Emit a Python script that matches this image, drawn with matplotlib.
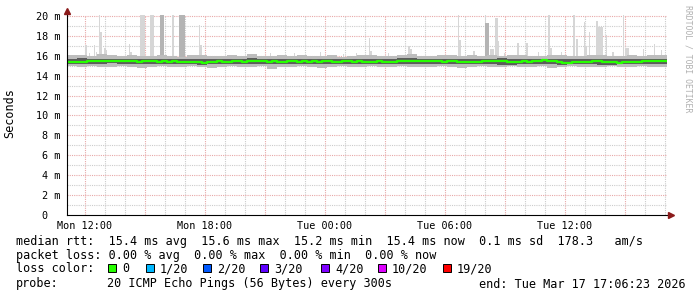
import numpy as np
import matplotlib
matplotlib.use("agg")
import matplotlib.pyplot as plt

# time axis in hours since Mon 00:00, graph spans Mon 11:06 .. Tue 17:06
t_start = 11.1
t_end = 41.1

# median rtt (ms), one value per 15 min
median_rtt = [
    15.38, 15.36, 15.40, 15.42, 15.45, 15.50, 15.52, 15.50, 15.47, 15.48, 15.44, 15.46,
    15.47, 15.45, 15.40, 15.43, 15.48, 15.45, 15.42, 15.44, 15.40, 15.43, 15.38, 15.42,
    15.40, 15.37, 15.33, 15.30, 15.36, 15.42, 15.45, 15.40, 15.38, 15.43, 15.45, 15.42,
    15.45, 15.48, 15.50, 15.44, 15.40, 15.46, 15.42, 15.38, 15.44, 15.47, 15.40, 15.43,
    15.42, 15.46, 15.40, 15.44, 15.48, 15.42, 15.38, 15.43, 15.47, 15.41, 15.44, 15.40,
    15.38, 15.42, 15.45, 15.40, 15.36, 15.42, 15.46, 15.48, 15.44, 15.47, 15.50, 15.46,
    15.44, 15.48, 15.45, 15.42, 15.46, 15.43, 15.40, 15.35, 15.36, 15.38, 15.42, 15.50,
    15.52, 15.48, 15.44, 15.46, 15.40, 15.36, 15.40, 15.44, 15.42, 15.46, 15.50, 15.55,
    15.52, 15.48, 15.40, 15.30, 15.28, 15.34, 15.40, 15.42, 15.38, 15.44, 15.46, 15.42,
    15.38, 15.35, 15.30, 15.34, 15.36, 15.40, 15.38, 15.45, 15.50, 15.48, 15.52, 15.50,
    15.48,
]

# smoke (spread of the 20 pings), one value per 30 min
smoke_max = [
    16.05, 16.10, 16.00, 16.15, 16.05, 15.95, 16.10, 16.00, 15.95, 16.05,
    16.00, 15.90, 16.05, 16.10, 15.95, 16.00, 16.05, 15.95, 16.15, 16.00,
    15.95, 16.05, 16.00, 16.10, 15.95, 16.00, 16.05, 15.90, 16.00, 16.10,
    16.05, 15.95, 16.00, 16.05, 16.15, 16.00, 15.95, 16.10, 16.05, 16.00,
    16.10, 15.95, 16.05, 16.00, 16.10, 16.05, 15.95, 16.00, 16.10, 16.05,
    16.00, 15.95, 16.05, 16.10, 16.00, 15.95, 16.05, 16.00, 16.10, 16.05, 16.00,
]
smoke_q3 = [
    15.70, 15.75, 15.68, 15.72, 15.70, 15.65, 15.72, 15.68, 15.66, 15.70,
    15.68, 15.64, 15.70, 15.72, 15.65, 15.68, 15.70, 15.66, 15.74, 15.68,
    15.66, 15.70, 15.68, 15.72, 15.65, 15.68, 15.70, 15.64, 15.68, 15.72,
    15.70, 15.66, 15.68, 15.74, 15.76, 15.70, 15.66, 15.72, 15.70, 15.68,
    15.72, 15.66, 15.70, 15.74, 15.72, 15.70, 15.64, 15.68, 15.72, 15.70,
    15.68, 15.66, 15.70, 15.72, 15.68, 15.65, 15.70, 15.68, 15.72, 15.70, 15.68,
]
smoke_q1 = [
    15.18, 15.15, 15.20, 15.22, 15.25, 15.20, 15.18, 15.22, 15.20, 15.15,
    15.18, 15.20, 15.16, 15.12, 15.18, 15.20, 15.22, 15.18, 15.20, 15.22,
    15.15, 15.18, 15.20, 15.16, 15.20, 15.22, 15.18, 15.15, 15.20, 15.22,
    15.18, 15.20, 15.16, 15.20, 15.22, 15.18, 15.15, 15.20, 15.22, 15.18,
    15.20, 15.22, 15.18, 15.10, 15.08, 15.15, 15.20, 15.22, 15.15, 15.12,
    15.18, 15.20, 15.16, 15.10, 15.12, 15.18, 15.20, 15.22, 15.18, 15.20, 15.22,
]
smoke_min = [
    14.95, 14.90, 14.95, 14.85, 14.90, 14.95, 14.85, 14.80, 14.90, 14.95,
    14.90, 14.85, 14.95, 14.90, 14.80, 14.90, 14.95, 14.85, 14.90, 14.95,
    14.70, 14.85, 14.90, 14.95, 14.85, 14.80, 14.90, 14.95, 14.90, 14.85,
    14.95, 14.90, 14.85, 14.95, 14.90, 14.90, 14.85, 14.95, 14.90, 14.80,
    14.90, 14.95, 14.85, 14.90, 14.95, 14.85, 14.90, 14.95, 14.80, 14.90,
    14.95, 14.90, 14.85, 14.90, 14.95, 14.85, 14.90, 14.95, 14.90, 14.85, 14.90,
]

# outlier pings: start hour, duration (h), highest value (ms)
spike_start = [12.0, 12.2, 12.45, 12.55, 12.7, 12.75, 12.95, 13.05, 14.2, 14.25,
               14.75, 15.25, 16.35, 17.7, 17.75, 21.25, 22.45, 23.75, 24.9, 25.55,
               26.2, 26.25, 27.15, 28.15, 28.2, 30.65, 30.7, 31.4, 32.0, 32.25,
               32.5, 32.65, 32.95, 33.6, 34.05, 34.65, 35.15, 35.25, 35.8, 36.4,
               36.55, 36.95, 37.0, 37.2, 37.55, 37.65, 38.05, 38.35, 38.9, 39.0,
               39.9, 40.45, 40.8]
spike_hours = [0.1, 0.06, 0.06, 0.06, 0.06, 0.1, 0.1, 0.06, 0.06, 0.1,
               0.25, 0.2, 0.12, 0.06, 0.1, 0.06, 0.06, 0.06, 0.06, 0.06,
               0.06, 0.12, 0.06, 0.08, 0.15, 0.06, 0.12, 0.08, 0.06, 0.2,
               0.15, 0.06, 0.06, 0.08, 0.08, 0.06, 0.12, 0.12, 0.06, 0.12,
               0.1, 0.06, 0.1, 0.06, 0.1, 0.25, 0.06, 0.12, 0.06, 0.2,
               0.06, 0.06, 0.06]
spike_top = [17.1, 16.3, 17.1, 16.4, 20.2, 18.4, 16.8, 16.6, 17.2, 16.4,
             20.2, 20.2, 20.2, 19.1, 17.1, 16.3, 16.3, 16.4, 16.2, 16.3,
             17.8, 16.5, 16.3, 17.0, 16.7, 20.2, 17.6, 16.5, 20.2, 16.7,
             19.8, 17.5, 16.3, 17.3, 17.3, 16.4, 20.2, 16.8, 16.4, 20.2,
             17.7, 19.4, 17.0, 18.4, 19.5, 18.9, 18.1, 16.4, 20.2, 16.8,
             16.7, 17.2, 16.6]

# outliers where several pings were slow (darker smoke)
dense_start = [15.75, 16.7, 32.0]
dense_hours = [0.2, 0.3, 0.2]
dense_top = [20.2, 20.2, 19.3]

x_ticks = [12, 18, 24, 30, 36]
x_labels = ["Mon 12:00", "Mon 18:00", "Tue 00:00", "Tue 06:00", "Tue 12:00"]
y_ticks = [0, 2, 4, 6, 8, 10, 12, 14, 16, 18, 20]
y_labels = ["0  "] + ["%d m" % v for v in y_ticks[1:]]

loss_labels = ["0", "1/20", "2/20", "3/20", "4/20", "10/20", "19/20"]
loss_colors = ["#26ff00", "#00b8ff", "#0059ff", "#5e00ff", "#7e00ff", "#dd00ff", "#ff0000"]

W, H = 697, 297
mono = "DejaVu Sans Mono"
plt.rcParams["font.family"] = mono

fig = plt.figure(figsize=(W / 100, H / 100), dpi=100)
ax = fig.add_axes([67 / W, (H - 215) / H, 600 / W, 200 / H])
ax.set_xlim(t_start, t_end)
ax.set_ylim(0, 20.1)

# grid
for h in np.arange(12, 42, 1):
    c = "#e8a8a8" if h % 3 == 0 else "#cccccc"
    ax.axvline(h, color=c, lw=0.8, ls=(0, (1, 1)), zorder=1)
for v in np.arange(1, 21, 1):
    c = "#e8a8a8" if v % 2 == 0 else "#cccccc"
    ax.axhline(v, color=c, lw=0.8, ls=(0, (1, 1)), zorder=1)

# outliers
ax.bar(spike_start, np.array(spike_top) - 15.5, bottom=15.5, width=spike_hours,
       align="edge", color="#d6d6d6", lw=0, zorder=2)
ax.bar(dense_start, np.array(dense_top) - 15.5, bottom=15.5, width=dense_hours,
       align="edge", color="#b4b4b4", lw=0, zorder=2)

# smoke
ts = t_start + 0.5 * np.arange(len(smoke_max))
ax.fill_between(ts, smoke_min, smoke_max, step="post", color="#bdbdbd", lw=0, zorder=3)
ax.fill_between(ts, smoke_q1, smoke_q3, step="post", color="#5c5c5c", lw=0, zorder=4)

# median
tm = t_start + 0.25 * np.arange(len(median_rtt))
ax.plot(tm, median_rtt, drawstyle="steps-post", color="#26ff00", lw=1.6, zorder=6)

for s in ax.spines.values():
    s.set_visible(False)
ax.plot([t_start, t_start], [0, 20.55], color="black", lw=0.8, clip_on=False, zorder=7)
ax.plot([t_start, 41.25], [0, 0], color="black", lw=0.8, clip_on=False, zorder=7)
ax.plot([t_start], [20.55], marker="^", ms=4, color="#8b1a1a", clip_on=False, zorder=8)
ax.plot([41.3], [0], marker=">", ms=4, color="#8b1a1a", clip_on=False, zorder=8)

ax.set_xticks(x_ticks)
ax.set_xticklabels(x_labels, fontsize=7.3)
ax.set_yticks(y_ticks)
ax.set_yticklabels(y_labels, fontsize=7.3)
ax.tick_params(length=0)
ax.tick_params(axis="y", pad=5)
ax.tick_params(axis="x", pad=4)

fig.text(10 / W, 1 - 113 / H, "Seconds", rotation=90, ha="center", va="center", fontsize=8.5)
fig.text(688 / W, 1 - 5 / H, "RRDTOOL / TOBI OETIKER", rotation=-90, ha="center", va="top",
         fontsize=5.9, color="#b0b0b0")

fs = 8.5
fig.text(16 / W, 1 - 241 / H,
         "median rtt:  15.4 ms avg  15.6 ms max  15.2 ms min  15.4 ms now  0.1 ms sd  178.3   am/s",
         va="center", fontsize=fs)
fig.text(16 / W, 1 - 256 / H,
         "packet loss: 0.00 % avg  0.00 % max  0.00 % min  0.00 % now",
         va="center", fontsize=fs)
fig.text(16 / W, 1 - 269 / H, "loss color:", va="center", fontsize=fs)
box_x = [108, 146, 203, 260, 321, 378, 443]
for bx, lab, col in zip(box_x, loss_labels, loss_colors):
    fig.patches.append(plt.Rectangle((bx / W, 1 - 272 / H), 8 / W, 8 / H, transform=fig.transFigure,
                                     facecolor=col, edgecolor="black", lw=0.7))
    fig.text((bx + 14) / W, 1 - 269 / H, lab, va="center", fontsize=fs)
fig.text(16 / W, 1 - 284 / H, "probe:", va="center", fontsize=fs)
fig.text(107 / W, 1 - 284 / H, "20 ICMP Echo Pings (56 Bytes) every 300s", va="center", fontsize=fs)
fig.text(479 / W, 1 - 284 / H, "end: Tue Mar 17 17:06:23 2026", va="center", fontsize=fs)

fig.savefig("out.png", dpi=100, facecolor="white")
